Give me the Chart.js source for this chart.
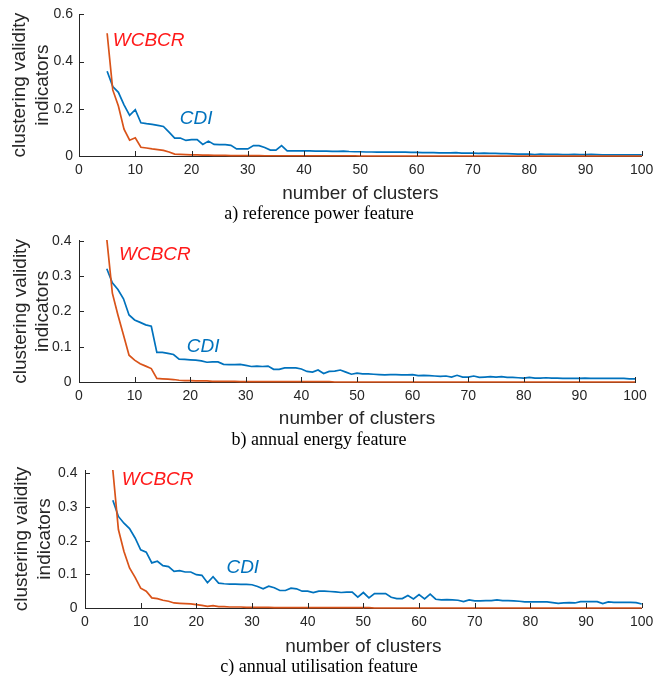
<!DOCTYPE html>
<html>
<head>
<meta charset="utf-8">
<script src="https://cdn.jsdelivr.net/npm/chart.js@4.4.1/dist/chart.umd.min.js"></script>
<style>
  html, body { margin:0; padding:0; background:#fff; }
  #wrap { position:relative; width:659px; height:677px; overflow:hidden; }
  .panel { position:absolute; left:0; width:659px; }
  .cap { position:absolute; left:0; width:638px; text-align:center; line-height:20px;
         font-family:"Liberation Serif","Times New Roman",serif; font-size:18px; color:#000; }
</style>
</head>
<body>
<div id="wrap">
  <div class="panel" style="top:0;height:207px"><canvas id="g-a" width="659" height="207"></canvas></div>
  <div class="panel" style="top:225px;height:206px"><canvas id="g-b" width="659" height="206"></canvas></div>
  <div class="panel" style="top:452px;height:208px"><canvas id="g-c" width="659" height="208"></canvas></div>
  <div class="cap" style="top:203px">a) reference power feature</div>
  <div class="cap" style="top:429px">b) annual energy feature</div>
  <div class="cap" style="top:656px">c) annual utilisation feature</div>
</div>
<script>
// number of clusters tried (x axis of every panel)
var clusters = [5,6,7,8,9,10,11,12,13,14,15,16,17,18,19,20,21,22,23,24,25,26,27,28,29,30,
  31,32,33,34,35,36,37,38,39,40,41,42,43,44,45,46,47,48,49,50,51,52,53,54,55,56,57,58,59,60,
  61,62,63,64,65,66,67,68,69,70,71,72,73,74,75,76,77,78,79,80,81,82,83,84,85,86,87,88,89,90,
  91,92,93,94,95,96,97,98,99,100];

// a) reference power feature
var cdiPower = [.359,.294,.270,.217,.172,.196,.141,.137,.134,.130,.125,.101,.076,.076,.066,.069,.069,.049,.063,.049,
  .048,.048,.045,.030,.030,.030,.044,.044,.036,.025,.025,.044,.022,.022,.022,.022,.022,.021,.021,.021,
  .020,.020,.021,.019,.018,.018,.017,.017,.016,.017,.016,.016,.017,.016,.015,.015,.014,.014,.014,.013,
  .013,.013,.014,.012,.012,.012,.011,.012,.011,.011,.010,.010,.009,.008,.008,.008,.006,.008,.007,.007,
  .007,.006,.006,.007,.006,.006,.007,.006,.005,.005,.005,.005,.005,.005,.005,.005];
var wcbcrPower = [.520,.280,.212,.114,.067,.077,.037,.034,.030,.027,.024,.017,.008,.007,.006,.005,.005,.004,.004,.003,
  .003,.003,.002,.002,.002,.002,.002,.002,.001,.001,.001,.001,.001,.001,.001,.001,.001,.001,.001,.001,
  .001,.001,.001,.001,.001,0,0,0,0,0,0,0,0,0,0,0,0,0,0,0,
  0,0,0,0,0,0,0,0,0,0,0,0,0,0,0,0,0,0,0,0,
  0,0,0,0,0,0,0,0,0,0,0,0,0,0,0,0];

// b) annual energy feature
var cdiEnergy = [.321,.281,.262,.236,.190,.176,.169,.162,.158,.084,.084,.081,.078,.065,.064,.063,.062,.060,.056,.057,
  .057,.050,.049,.049,.050,.047,.044,.045,.044,.045,.036,.036,.040,.040,.040,.037,.030,.028,.034,.024,
  .030,.031,.034,.028,.022,.025,.023,.023,.022,.021,.020,.021,.021,.020,.020,.021,.018,.019,.018,.017,
  .016,.017,.014,.019,.014,.014,.017,.013,.014,.015,.014,.015,.013,.013,.012,.011,.013,.011,.011,.012,
  .011,.011,.010,.010,.010,.010,.011,.010,.010,.010,.010,.010,.010,.010,.009,.009];
var wcbcrEnergy = [.405,.252,.190,.133,.076,.062,.052,.045,.038,.010,.009,.008,.007,.005,.004,.004,.003,.003,.003,.002,
  .002,.002,.002,.002,.001,.001,.001,.001,.001,.001,.001,.001,.001,.001,.001,.001,.001,.001,.001,.001,
  .001,0,0,0,0,0,0,0,0,0,0,0,0,0,0,0,0,0,0,0,
  0,0,0,0,0,0,0,0,0,0,0,0,0,0,0,0,0,0,0,0,
  0,0,0,0,0,0,0,0,0,0,0,0,0,0,0,0];

// c) annual utilisation feature
var cdiUtil = [.320,.272,.252,.236,.208,.173,.166,.134,.139,.126,.123,.109,.111,.107,.107,.099,.097,.075,.093,.074,
  .072,.071,.071,.070,.070,.069,.064,.057,.065,.060,.052,.052,.059,.057,.050,.050,.046,.050,.050,.049,
  .048,.046,.047,.047,.032,.046,.030,.043,.043,.043,.032,.028,.028,.037,.027,.040,.027,.041,.026,.024,
  .025,.024,.023,.019,.024,.021,.021,.022,.022,.024,.022,.022,.021,.020,.018,.018,.018,.018,.018,.016,
  .014,.015,.016,.015,.019,.019,.019,.019,.013,.018,.017,.017,.017,.017,.016,.012];
var wcbcrUtil = [.410,.233,.168,.119,.091,.059,.050,.030,.028,.023,.020,.015,.014,.013,.012,.010,.008,.005,.007,.004,
  .004,.003,.003,.003,.002,.002,.002,.002,.002,.001,.001,.001,.001,.001,.001,.001,.001,.001,.001,.001,
  .001,.001,.001,.001,.001,.001,.001,0,0,0,0,0,0,0,0,0,0,0,0,0,
  0,0,0,0,0,0,0,0,0,0,0,0,0,0,0,0,0,0,0,0,
  0,0,0,0,0,0,0,0,0,0,0,0,0,0,0,0];

// y axis ticks per panel
var yTicksPower  = [0, 0.2, 0.4, 0.6];
var yTicksEnergy = [0, 0.1, 0.2, 0.3, 0.4];
var yTicksUtil   = [0, 0.1, 0.2, 0.3, 0.4];
var xTicks = [0,10,20,30,40,50,60,70,80,90,100];

// where the series names sit, in data units [x, y]
var lblPower  = { wcbcr:[6.0, 0.49],  cdi:[17.9, 0.156] };
var lblEnergy = { wcbcr:[7.2, 0.362], cdi:[19.4, 0.099] };
var lblUtil   = { wcbcr:[6.6, 0.382], cdi:[25.4, 0.119] };

var C_CDI = "#0072BD", C_WCBCR = "#D95319", C_WTXT = "#FF1A1A", INK = "#262626";
var SANS = "'Liberation Sans', Arial, Helvetica, sans-serif";

function pts(ys) {
  return clusters.map(function(c, i){ return { x:c, y:ys[i] }; });
}

// matlab style: ticks pointing into the plot + inline series names
var inwardTicks = {
  id: "inwardTicks",
  afterDraw: function(chart) {
    var ctx = chart.ctx, a = chart.chartArea, xs = chart.scales.x, ys = chart.scales.y;
    var lb = chart.options.plugins.inwardTicks;
    ctx.save();
    ctx.strokeStyle = INK; ctx.lineWidth = 1;
    ctx.beginPath();
    xs.ticks.forEach(function(t){
      var px = Math.round(xs.getPixelForValue(t.value)) + 0.5;
      ctx.moveTo(px, a.bottom); ctx.lineTo(px, a.bottom - 5);
    });
    ys.ticks.forEach(function(t){
      var py = Math.round(ys.getPixelForValue(t.value)) + 0.5;
      ctx.moveTo(a.left, py); ctx.lineTo(a.left + 5, py);
    });
    ctx.stroke();
    ctx.font = "italic 19px " + SANS;
    ctx.textAlign = "left"; ctx.textBaseline = "middle";
    ctx.fillStyle = C_WTXT;
    ctx.fillText("WCBCR", xs.getPixelForValue(lb.wcbcr[0]), ys.getPixelForValue(lb.wcbcr[1]));
    ctx.fillStyle = C_CDI;
    ctx.fillText("CDI", xs.getPixelForValue(lb.cdi[0]), ys.getPixelForValue(lb.cdi[1]));
    ctx.restore();
  }
};

function buildPanel(id, cfg) {
  var noClip = { left:false, right:false, top:1, bottom:false };
  return new Chart(document.getElementById(id), {
    type: "line",
    data: {
      datasets: [
        { label:"WCBCR", data:pts(cfg.wcbcr), borderColor:C_WCBCR, borderWidth:1.7, pointRadius:0, tension:0, clip:noClip },
        { label:"CDI",   data:pts(cfg.cdi),   borderColor:C_CDI,   borderWidth:1.7, pointRadius:0, tension:0, clip:noClip }
      ]
    },
    options: {
      responsive:false, animation:false, events:[],
      layout: { padding: { top:cfg.top, right:cfg.right, left:0, bottom:0 } },
      plugins: { legend:{display:false}, tooltip:{enabled:false}, inwardTicks: cfg.labels },
      scales: {
        x: {
          type:"linear", min:0, max:100,
          afterBuildTicks: function(s){ s.ticks = xTicks.map(function(v){ return {value:v}; }); },
          afterFit: function(s){ s.height = cfg.xh; },
          grid:{ display:false, drawTicks:false }, border:{ color:INK, width:1 },
          ticks:{ color:INK, font:{ size:14, family:SANS }, padding:5.6, maxRotation:0 },
          title:{ display:true, text:"number of clusters", color:INK, font:{ size:19, family:SANS, lineHeight:1.2 }, padding:{ top:0, bottom:cfg.xtb } }
        },
        y: {
          type:"linear", min:0, max:cfg.ymax,
          afterBuildTicks: function(s){ s.ticks = cfg.yticks.map(function(v){ return {value:v}; }); },
          afterFit: function(s){ s.width = cfg.left; },
          grid:{ display:false, drawTicks:false }, border:{ color:INK, width:1 },
          ticks:{ color:INK, font:{ size:14, family:SANS }, padding:cfg.ytp,
                  callback:function(v){ return String(+v.toFixed(1)); } },
          title:{ display:true, text:["clustering validity","indicators"], color:INK,
                  font:{ size:19, family:SANS, lineHeight:1.2 }, padding:{ top:cfg.ytt, bottom:0 } }
        }
      }
    },
    plugins: [inwardTicks]
  });
}

buildPanel("g-a", { cdi:cdiPower,  wcbcr:wcbcrPower,  yticks:yTicksPower,  ymax:0.6,
  top:14, right:16, left:79, xh:51, xtb:1.6, ytp:6,   ytt:8.6,  labels:lblPower });
buildPanel("g-b", { cdi:cdiEnergy, wcbcr:wcbcrEnergy, yticks:yTicksEnergy, ymax:0.4,
  top:15, right:24, left:79, xh:49, xtb:0.6, ytp:7.5, ytt:9,    labels:lblEnergy });
buildPanel("g-c", { cdi:cdiUtil,   wcbcr:wcbcrUtil,   yticks:yTicksUtil,   ymax:0.41,
  top:18, right:11, left:85, xh:52, xtb:1.6, ytp:7.5, ytt:10.3, labels:lblUtil });
</script>
</body>
</html>
